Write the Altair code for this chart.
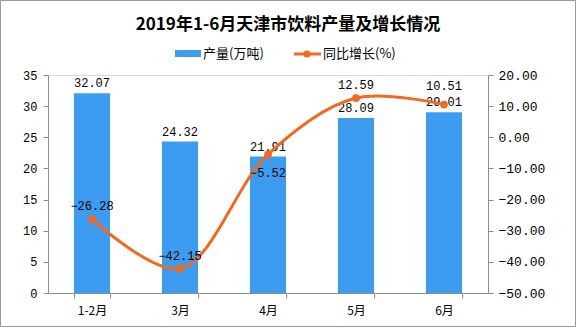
import altair as alt
import pandas as pd

categories = ["1-2月", "3月", "4月", "5月", "6月"]
output = [32.07, 24.32, 21.91, 28.09, 29.01]
growth = [-26.28, -42.15, -5.52, 12.59, 10.51]

title_text = "2019年1-6月天津市饮料产量及增长情况"
legend_bar = "产量(万吨)"
legend_line = "同比增长(%)"

df = pd.DataFrame({"cat": categories, "output": output, "growth": growth})

NUM = "Liberation Mono"
CJK = "Noto Sans CJK SC"
BLUE = "#3d9cf0"
ORANGE = "#f26a22"
GRAY = "#8c8c8c"

x = alt.X(
    "cat:N", sort=categories,
    scale=alt.Scale(paddingInner=0.59, paddingOuter=0.295),
    axis=alt.Axis(title=None, labelAngle=0, tickBand="extent", domainColor=GRAY,
                  tickColor=GRAY, tickSize=5, labelFont=CJK, labelFontSize=12,
                  labelColor="black", labelPadding=7),
)

y_left = alt.Y(
    "output:Q", scale=alt.Scale(domain=[0, 35]),
    axis=alt.Axis(title=None, values=list(range(0, 36, 5)), grid=False, domainColor=GRAY,
                  tickColor=GRAY, tickSize=5, labelFont=NUM, labelFontSize=12,
                  labelColor="black", labelPadding=6, labelOverlap=False),
)

y_right = alt.Y(
    "growth:Q", scale=alt.Scale(domain=[-50, 20]),
    axis=alt.Axis(title=None, orient="right", values=list(range(-50, 21, 10)), format=".2f",
                  grid=False, domainColor=GRAY, tickColor=GRAY, tickSize=5,
                  labelFont=NUM, labelFontSize=13, labelColor="black", labelPadding=5,
                  labelOverlap=False),
)

base = alt.Chart(df)

bars = base.mark_bar(color=BLUE).encode(x=x, y=y_left)
bar_labels = base.mark_text(font=NUM, fontSize=12, baseline="bottom", dy=-3, color="black").encode(
    x=x, y=y_left, text=alt.Text("output:Q", format=".2f"))

left = alt.layer(bars, bar_labels)

line = base.mark_line(color=ORANGE, strokeWidth=3, interpolate="catmull-rom").encode(
    x=x, y=y_right)
pts = base.mark_point(color=ORANGE, filled=True, size=60, opacity=1).encode(
    x=x, y=y_right)
line_labels_up = base.transform_filter(
    (alt.datum.cat != "4月") & (alt.datum.cat != "6月")).mark_text(
    font=NUM, fontSize=12, baseline="bottom", dy=-6, color="black").encode(
    x=x, y=y_right, text=alt.Text("growth:Q", format=".2f"))
line_labels_high = base.transform_filter(alt.datum.cat == "6月").mark_text(
    font=NUM, fontSize=12, baseline="bottom", dy=-12, color="black").encode(
    x=x, y=y_right, text=alt.Text("growth:Q", format=".2f"))
line_labels_down = base.transform_filter(alt.datum.cat == "4月").mark_text(
    font=NUM, fontSize=12, baseline="top", dy=14, color="black").encode(
    x=x, y=y_right, text=alt.Text("growth:Q", format=".2f"))

right = alt.layer(line, pts, line_labels_up, line_labels_high, line_labels_down)

one = alt.Chart(pd.DataFrame({"k": [0]}))
title = one.mark_text(text=title_text, font=CJK, fontSize=17, fontWeight="bold",
                      align="center", baseline="middle", color="black").encode(
    x=alt.value(240), y=alt.value(-50))
leg_rect = one.mark_rect(color=BLUE).encode(
    x=alt.value(127), x2=alt.value(153), y=alt.value(-25), y2=alt.value(-18))
leg_t1 = one.mark_text(text=legend_bar, font=CJK, fontSize=13, align="left",
                       baseline="middle", color="black").encode(x=alt.value(155), y=alt.value(-21))
leg_line = one.mark_rule(color=ORANGE, strokeWidth=3).encode(
    x=alt.value(246), x2=alt.value(273), y=alt.value(-21))
leg_dot = one.mark_point(color=ORANGE, filled=True, size=50, opacity=1).encode(
    x=alt.value(259), y=alt.value(-21))
leg_t2 = one.mark_text(text=legend_line, font=CJK, fontSize=13, align="left",
                       baseline="middle", color="black").encode(x=alt.value(275), y=alt.value(-21))
border = one.mark_rect(fill=None, stroke="#9a9a9a", strokeWidth=1).encode(
    x=alt.value(-47.5), x2=alt.value(527.5), y=alt.value(-74.5), y2=alt.value(251.5))

chart = alt.layer(left, right, title, leg_rect, leg_t1, leg_line, leg_dot, leg_t2, border).resolve_scale(
    y="independent"
).properties(
    width=440, height=218,
    autosize=alt.AutoSizeParams(type="none"),
    padding={"left": 48, "top": 75, "right": 88, "bottom": 34},
).configure_view(stroke=None).configure(background="white")

chart.save("out.html", embed_options={"renderer": "svg", "actions": False})
